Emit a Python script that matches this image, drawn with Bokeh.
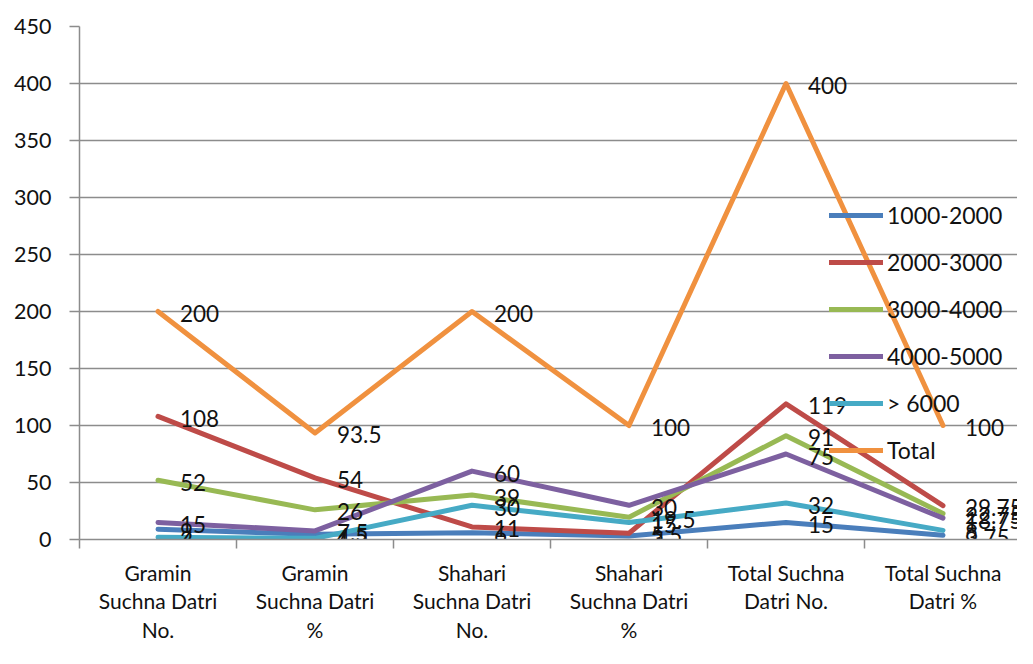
import numpy as np
from bokeh.plotting import figure
from bokeh.models import Range1d, FixedTicker, Legend, LegendItem, ColumnDataSource
from bokeh.core.properties import value
from bokeh.embed import file_html
from bokeh.resources import INLINE

categories = ["Gramin\nSuchna Datri\nNo.", "Gramin\nSuchna Datri\n%",
              "Shahari\nSuchna Datri\nNo.", "Shahari\nSuchna Datri\n%",
              "Total Suchna\nDatri No.", "Total Suchna\nDatri %"]
series_names = ["1000-2000", "2000-3000", "3000-4000", "4000-5000", "> 6000", "Total"]
s_1000_2000 = [9, 4.5, 6, 3, 15, 3.75]
s_2000_3000 = [108, 54, 11, 5.5, 119, 29.75]
s_3000_4000 = [52, 26, 39, 19.5, 91, 22.75]
s_4000_5000 = [15, 7.5, 60, 30, 75, 18.75]
s_gt_6000 = [2, 1, 30, 15, 32, 8]
s_total = [200, 93.5, 200, 100, 400, 100]
y_ticks = [0, 50, 100, 150, 200, 250, 300, 350, 400, 450]

colors = ["#4A7EBB", "#BE4B48", "#98B954", "#7D60A0", "#46AAC5", "#F0913F"]
all_series = [s_1000_2000, s_2000_3000, s_3000_4000, s_4000_5000, s_gt_6000, s_total]

FONT = "Lato"
xs = list(range(len(categories)))

p = figure(width=1017, height=648, output_backend="svg", toolbar_location=None,
           x_range=Range1d(-0.5, -0.5 + 938 / 157.0), y_range=Range1d(0, 450),
           min_border_left=79, min_border_right=0, min_border_top=26, min_border_bottom=109)
p.outline_line_color = None
p.background_fill_color = "white"
p.border_fill_color = "white"

grid_col = "#8C8C8C"
p.xgrid.grid_line_color = None
p.ygrid.grid_line_color = grid_col
p.ygrid.grid_line_width = 1.5

p.yaxis.ticker = FixedTicker(ticks=y_ticks)
p.yaxis.axis_line_color = grid_col
p.yaxis.axis_line_width = 1.5
p.yaxis.major_tick_line_color = grid_col
p.yaxis.major_tick_line_width = 1.5
p.yaxis.major_tick_out = 10
p.yaxis.major_tick_in = 0
p.yaxis.minor_tick_line_color = None
p.yaxis.major_label_standoff = 18
p.yaxis.major_label_text_font = FONT
p.yaxis.major_label_text_font_size = "21.5px"
p.yaxis.major_label_text_color = "#111111"

p.xaxis.ticker = FixedTicker(ticks=xs, minor_ticks=[x + 0.5 for x in [-1] + xs])
p.xaxis.major_label_overrides = {i: c for i, c in zip(xs, categories)}
p.xaxis.axis_line_color = grid_col
p.xaxis.axis_line_width = 1.5
p.xaxis.major_tick_line_color = None
p.xaxis.minor_tick_line_color = grid_col
p.xaxis.minor_tick_line_width = 1.5
p.xaxis.minor_tick_out = 9
p.xaxis.minor_tick_in = 0
p.xaxis.major_label_standoff = 11
p.xaxis.major_label_text_font = FONT
p.xaxis.major_label_text_font_size = "21px"
p.xaxis.major_label_text_line_height = 1.15
p.xaxis.major_label_text_color = "#111111"

items = []
for name, vals, col in zip(series_names, all_series, colors):
    r = p.line(xs, vals, line_color=col, line_width=5, line_join="round", line_cap="round")
    items.append(LegendItem(label=name, renderers=[r]))

for vals in all_series:
    src = ColumnDataSource(dict(x=xs, y=vals, t=[f"{v:g}" for v in vals]))
    p.text(x="x", y="y", text="t", source=src, x_offset=22, y_offset=2,
           text_baseline="middle", text_align="left", text_color="#111111",
           text_font=value(FONT), text_font_size="22.5px")

legend = Legend(items=items, location=(750, 75), orientation="vertical",
                background_fill_alpha=0, border_line_alpha=0,
                glyph_width=54, glyph_height=28, label_height=28, spacing=19,
                padding=0, margin=0, label_standoff=4,
                label_text_font=FONT, label_text_font_size="23px", label_text_color="#111111")
p.add_layout(legend, "center")

open("out.html", "w").write(file_html(p, INLINE))
